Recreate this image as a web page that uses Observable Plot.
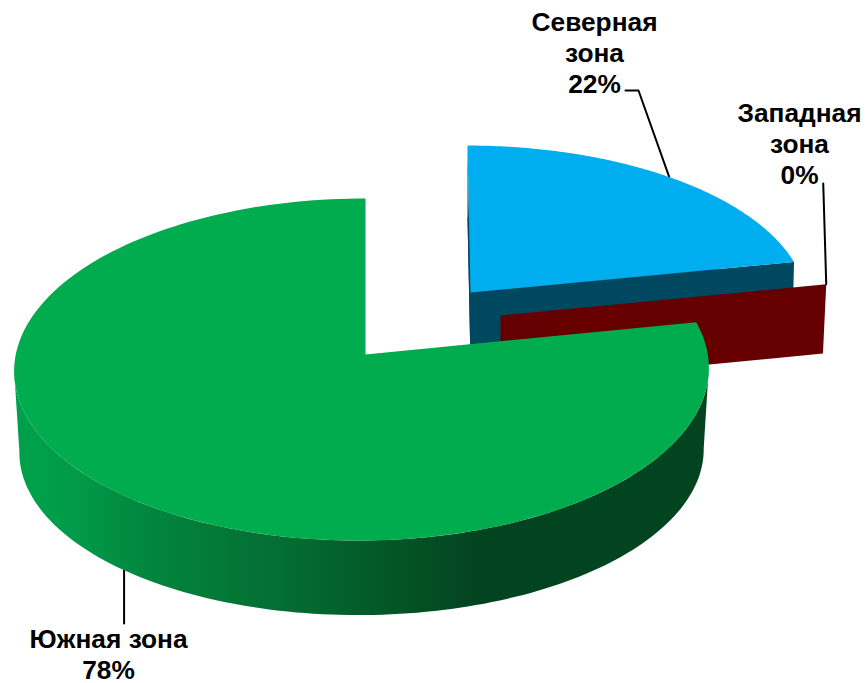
<!DOCTYPE html>
<html>
<head>
<meta charset="utf-8">
<script src="https://cdn.jsdelivr.net/npm/d3@7"></script>
<script src="https://cdn.jsdelivr.net/npm/@observablehq/plot@0.6"></script>
<style>
html,body{margin:0;padding:0;background:#fff}
svg{display:block}
</style>
</head>
<body>
<div id="chart"></div>
<script>
// Data
const zones = ["Северная зона", "Западная зона", "Южная зона"];
const shares = [22, 0, 78];
const labels = ["Северная\nзона\n22%", "Западная\nзона\n0%", "Южная зона\n78%"];

// Look
const W = 867, H = 683;
const faceColors = ["#00AEEF", "#660000", "#00AC4E"];
const wallColors = ["#004760", "#660000", "#034420"];
const wallStops = [[13, "#00a14b"], [70, "#009c49"], [130, "#018a41"], [200, "#037c39"],
                   [300, "#046a31"], [400, "#035426"], [475, "#034420"], [710, "#034420"]];

// Perspective view of the pie: each slice is pulled away from the centre
const view = {a: 346, b: 169.7, q: 0.0877, r: 0.0115, k: 1.5};
const placing = [
  {cx: 470, cy: 292, sx: 0.98, sy: 0.942, lean: -3, dx: 0, dy: 70, bx: 0.975, by: 0.93},
  {cx: 500, cy: 315, sx: 0.985, sy: 0.965, lean: 0, dx: 0, dy: 69, bx: 0.975, by: 0.955},
  {cx: 365, cy: 354, sx: 1, sy: 1, lean: 0, dx: 0, dy: 82, bx: 0.985, by: 0.96}
];

function ring(deg, p, bottom) {
  const t = deg * Math.PI / 180, c = Math.cos(t), s = Math.sin(t);
  const w = 1 + view.q * c + view.r * s;
  const X = view.a * s / w, Y = (-view.b * c - view.k * s) / w;
  return bottom
    ? {x: p.cx + p.dx + p.bx * X + p.lean * c, y: p.cy + p.dy + p.by * Y}
    : {x: p.cx + p.sx * X + p.lean * c, y: p.cy + p.sy * Y};
}
const centre = (p, bottom) => bottom
  ? {x: p.cx + p.dx, y: p.cy + p.dy}
  : {x: p.cx, y: p.cy};

// Slice extents from the shares, clockwise from the top
const total = d3.sum(shares);
let run = 0;
const slices = zones.map((zone, i) => {
  const start = run / total * 360;
  run += shares[i];
  return {zone, i, start, end: run / total * 360, p: placing[i]};
});

const polygons = [];
const addPolygon = (id, color, points) =>
  points.forEach(pt => polygons.push({...pt, id, color}));
const arc = (a0, a1, p, bottom) =>
  d3.range(0, 181).map(j => ring(a0 + (a1 - a0) * j / 180, p, bottom));
const sector = (s, bottom) => [centre(s.p, bottom), ...arc(s.start, s.end, s.p, bottom)];
const seamWall = (s, deg) => [centre(s.p, false), ring(deg, s.p, false), ring(deg, s.p, true), centre(s.p, true)];

// The visible front of a ring runs between its rightmost and leftmost points
const frontArc = (p, bottom) => {
  const pts = arc(60, 300, p, bottom);
  const i0 = d3.greatestIndex(pts, d => d.x);
  const i1 = d3.leastIndex(pts, d => d.x);
  return pts.slice(i0, i1 + 1);
};

const [north, west, south] = slices;

// back to front: western wall, northern body, southern body
addPolygon("north-under", wallColors[0], sector(north, true));
addPolygon("north-seam", wallColors[0], seamWall(north, north.end));
addPolygon("north-start", wallColors[0], seamWall(north, north.start));
addPolygon("north-face", faceColors[0], sector(north, false));
addPolygon("west-wall", wallColors[1], seamWall(west, west.end));
addPolygon("west-face", faceColors[1], sector(west, false));
addPolygon("south-wall", "url(#southWall)", [
  ...frontArc(south.p, false),
  ...frontArc(south.p, true).reverse()
]);
addPolygon("south-face", faceColors[2], sector(south, false));

// Leader lines run from the labels to the slices
const northTip = ring((north.start + north.end) / 2, north.p, false);
const westTip = ring(west.end, west.p, false);
const southTip = ring(south.start + (south.end - south.start) * 0.505, south.p, true);
const leaders = [
  {id: "n", x: 625, y: 90}, {id: "n", x: 638, y: 90}, {id: "n", ...northTip},
  {id: "w", x: westTip.x - 3, y: 183}, {id: "w", ...westTip},
  {id: "s", ...southTip}, {id: "s", x: southTip.x, y: 623}
];

const labelRows = [
  {text: labels[0], x: 594, y: 51.5},
  {text: labels[1], x: 799, y: 142.5},
  {text: labels[2], x: 108, y: 653.5}
];

const NS = "http://www.w3.org/2000/svg";
const wallGradient = () => {
  const defs = document.createElementNS(NS, "defs");
  const g = document.createElementNS(NS, "linearGradient");
  g.setAttribute("id", "southWall");
  g.setAttribute("gradientUnits", "userSpaceOnUse");
  g.setAttribute("x1", wallStops[0][0]);
  g.setAttribute("x2", wallStops[wallStops.length - 1][0]);
  g.setAttribute("y1", 0);
  g.setAttribute("y2", 0);
  const span = wallStops[wallStops.length - 1][0] - wallStops[0][0];
  wallStops.forEach(([x, color]) => {
    const stop = document.createElementNS(NS, "stop");
    stop.setAttribute("offset", (x - wallStops[0][0]) / span);
    stop.setAttribute("stop-color", color);
    g.appendChild(stop);
  });
  defs.appendChild(g);
  return defs;
};

const chart = Plot.plot({
  width: W,
  height: H,
  margin: 0,
  style: {background: "#fff", fontFamily: "'Liberation Sans', Arial, sans-serif"},
  x: {domain: [0, W], range: [0, W], axis: null},
  y: {domain: [0, H], range: [0, H], axis: null},
  color: {type: "identity"},
  marks: [
    wallGradient,
    Plot.line(leaders, {x: "x", y: "y", z: "id", stroke: "#000", strokeWidth: 2, curve: "linear"}),
    Plot.line(polygons, {x: "x", y: "y", z: "id", fill: "color", stroke: "none", curve: "linear"}),
    Plot.text(labelRows, {
      x: "x", y: "y", text: "text",
      fontSize: 26.3, fontWeight: "bold", fill: "#000",
      lineHeight: 1.17, textAnchor: "middle", lineAnchor: "middle"
    })
  ]
});
document.getElementById("chart").appendChild(chart);
</script>
</body>
</html>
